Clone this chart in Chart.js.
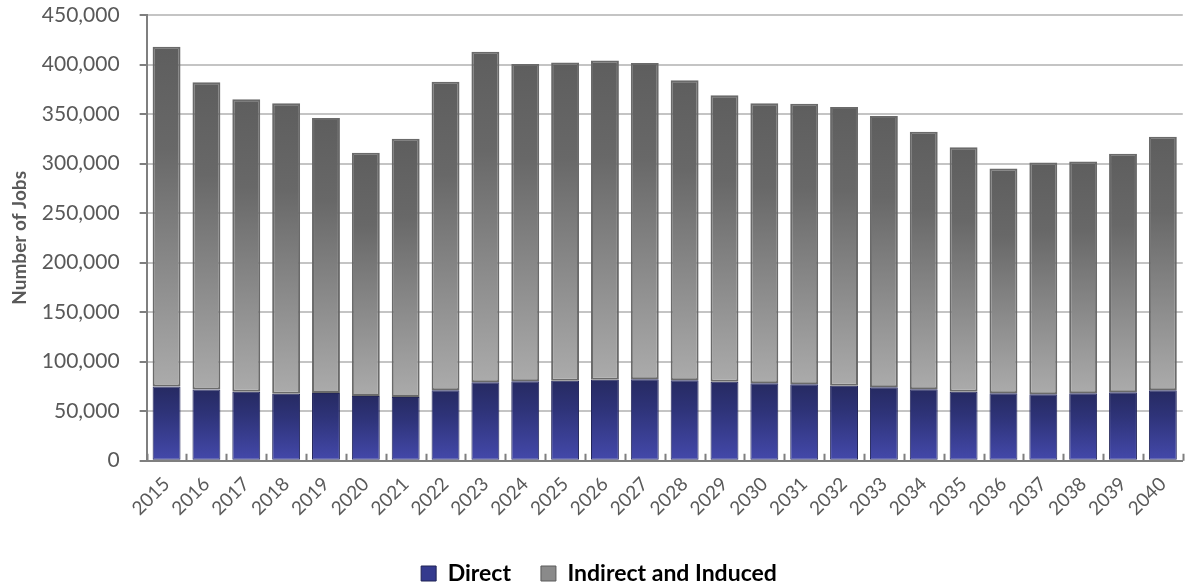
<!DOCTYPE html>
<html>
<head>
<meta charset="utf-8">
<script src="https://cdn.jsdelivr.net/npm/chart.js@4.4.1/dist/chart.umd.min.js"></script>
<style>
html,body{margin:0;padding:0;background:#fff;}
#wrap{width:1191px;height:587px;position:relative;}
</style>
</head>
<body>
<div id="wrap"><canvas id="c"></canvas></div>
<script>
const years = ['2015','2016','2017','2018','2019','2020','2021','2022','2023','2024','2025','2026','2027','2028','2029','2030','2031','2032','2033','2034','2035','2036','2037','2038','2039','2040'];
const directJobs = [75000,72000,69500,67700,68400,65400,64400,71100,79200,80100,80800,81800,82200,81200,79800,78100,77100,75800,74100,72100,69700,68100,67100,68100,69100,71100];
const indirectJobs = [343000,310000,295500,293300,277600,245600,260600,311400,333800,320400,321200,322200,319300,302800,289200,282900,283400,281200,273900,259900,246800,226900,233900,233900,240900,255900];
const seriesNames = ['Direct','Indirect and Induced'];
const yMax = 450000, yStep = 50000;

const FONT = "Lato, 'Open Sans', sans-serif";
const TEXT = '#595959';

function barGradient(ctx, stops, which) {
  const chart = ctx.chart;
  const i = ctx.dataIndex;
  if (!chart.chartArea || i === undefined) return stops[0][1];
  const y = chart.scales.y;
  let lo, hi;
  if (which === 0) { lo = 0; hi = directJobs[i]; }
  else { lo = directJobs[i]; hi = directJobs[i] + indirectJobs[i]; }
  const g = chart.ctx.createLinearGradient(0, y.getPixelForValue(hi), 0, y.getPixelForValue(lo));
  stops.forEach(s => g.addColorStop(s[0], s[1]));
  return g;
}
const directStops = [[0,'#262a62'],[0.35,'#2e3378'],[1,'#4449ab']];
const indirectStops = [[0,'#5e5e5e'],[0.3,'#686868'],[1,'#ababab']];

const axisTicks = {
  id: 'axisTicks',
  afterDatasetsDraw(chart) {
    const x = chart.scales.x, y = chart.scales.y;
    const c = chart.ctx;
    const base = y.getPixelForValue(0);
    const left = chart.chartArea.left;
    c.save();
    c.strokeStyle = '#7f7f7f';
    c.lineWidth = 2;
    c.beginPath();
    for (let i = 0; i <= years.length; i++) {
      const px = Math.round(x.getPixelForValue(i - 0.5)) + 0.5;
      c.moveTo(px, base - 7);
      c.lineTo(px, base);
    }
    y.ticks.forEach(t => {
      const py = Math.round(y.getPixelForValue(t.value));
      c.moveTo(left - 7, py);
      c.lineTo(left, py);
    });
    c.stroke();
    c.restore();
  }
};

new Chart(document.getElementById('c'), {
  type: 'bar',
  data: {
    labels: years,
    datasets: [
      {
        label: seriesNames[0],
        data: directJobs,
        backgroundColor: ctx => barGradient(ctx, directStops, 0),
        borderColor: '#23265a',
        borderWidth: 1,
        borderSkipped: false,
        barPercentage: 0.7,
        categoryPercentage: 1.0
      },
      {
        label: seriesNames[1],
        data: indirectJobs,
        backgroundColor: ctx => barGradient(ctx, indirectStops, 1),
        borderColor: '#6a6a6a',
        borderWidth: 2,
        borderSkipped: false,
        barPercentage: 0.7,
        categoryPercentage: 1.0
      }
    ]
  },
  options: {
    responsive: true,
    maintainAspectRatio: false,
    animation: false,
    layout: { padding: { top: 15, right: 1, left: 8, bottom: -8 } },
    plugins: {
      tooltip: { enabled: false },
      legend: {
        position: 'bottom',
        labels: {
          font: { family: FONT, size: 23, weight: 'bold' },
          color: TEXT,
          boxWidth: 15,
          boxHeight: 15,
          padding: 30,
          generateLabels(chart) {
            return [
              { text: seriesNames[0], fillStyle: '#343a8e', strokeStyle: '#1f2255', lineWidth: 1, datasetIndex: 0 },
              { text: seriesNames[1], fillStyle: '#8a8a8a', strokeStyle: '#5a5a5a', lineWidth: 1, datasetIndex: 1 }
            ];
          }
        }
      }
    },
    scales: {
      x: {
        stacked: true,
        grid: { display: true, drawOnChartArea: false, drawTicks: false, offset: true },
        border: { color: '#7f7f7f', width: 2 },
        ticks: {
          font: { family: FONT, size: 19 },
          color: TEXT,
          maxRotation: 45,
          minRotation: 45,
          padding: 12,
          autoSkip: false
        }
      },
      y: {
        stacked: true,
        min: 0,
        max: yMax,
        ticks: {
          stepSize: yStep,
          font: { family: FONT, size: 21 },
          color: TEXT,
          padding: 0
        },
        grid: { color: '#c4c4c4', lineWidth: 2, tickColor: 'rgba(0,0,0,0)', tickLength: 27 },
        border: { color: '#7f7f7f', width: 2 },
        title: {
          display: true,
          text: 'Number of Jobs',
          font: { family: FONT, size: 19, weight: 'bold' },
          color: TEXT,
          padding: { top: 0, bottom: 11 }
        }
      }
    }
  },
  plugins: [axisTicks]
});
</script>
</body>
</html>
